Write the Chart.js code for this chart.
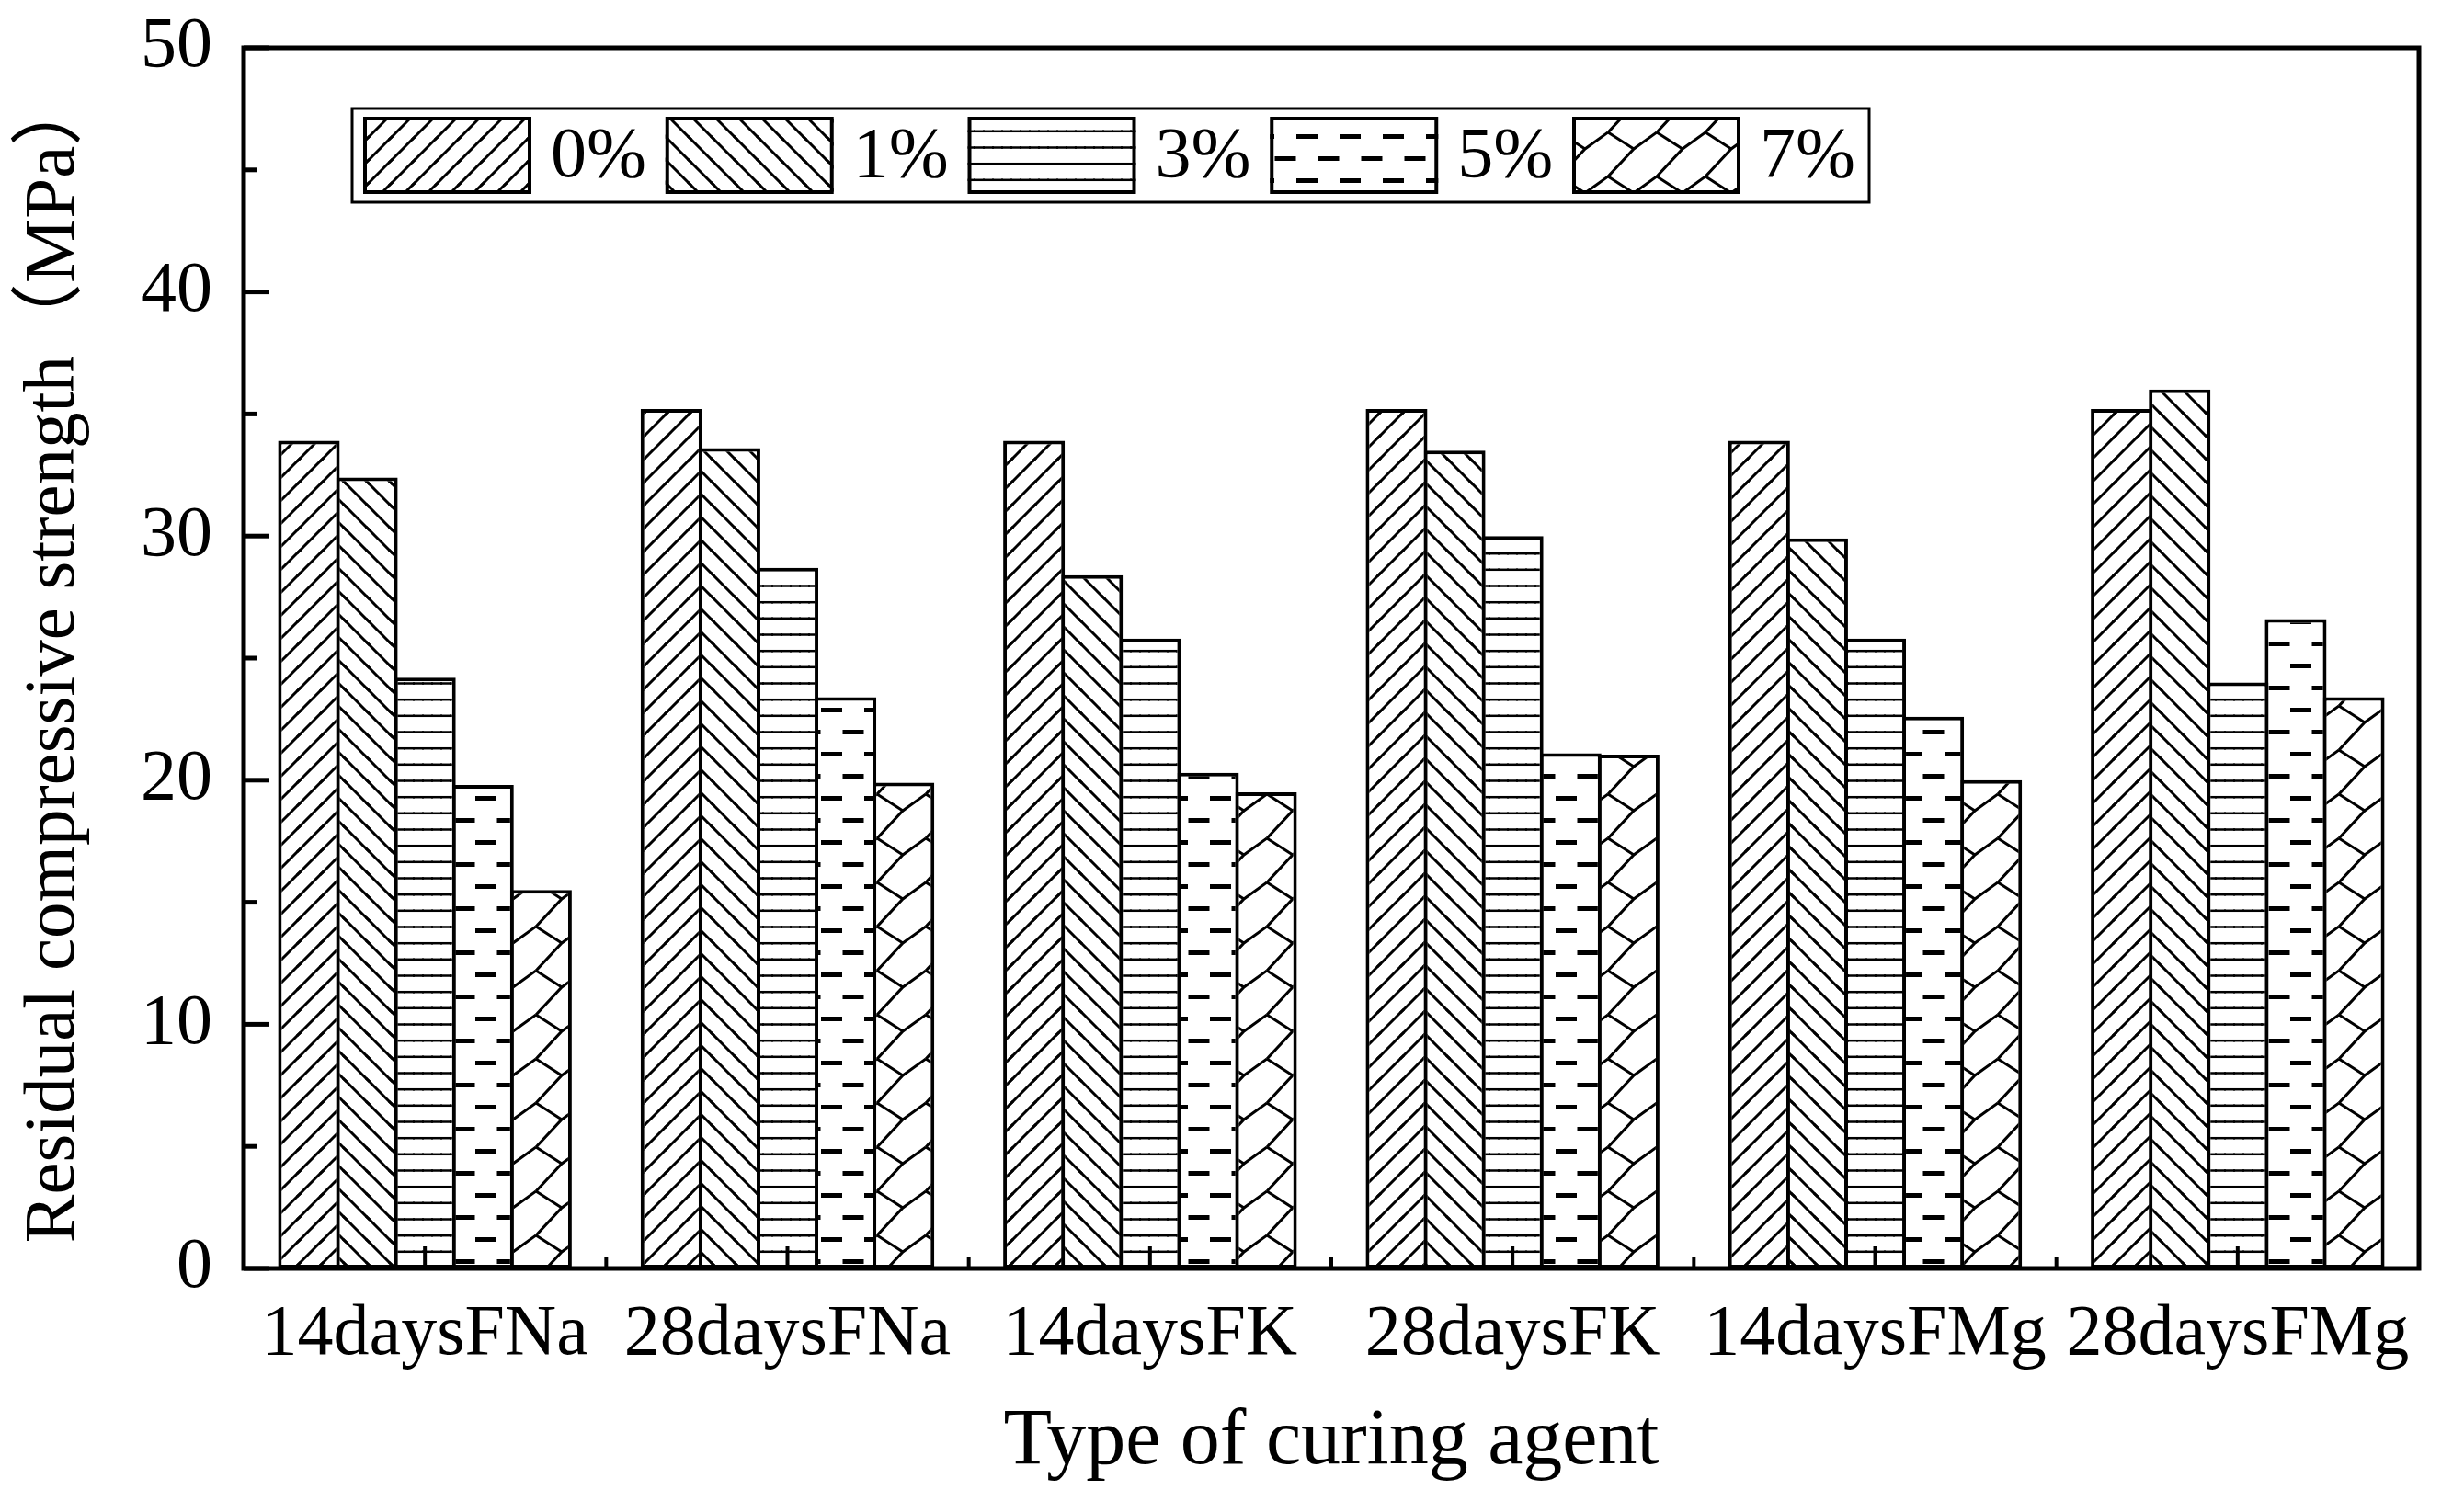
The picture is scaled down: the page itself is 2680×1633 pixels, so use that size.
<!DOCTYPE html>
<html lang="en">
<head>
<meta charset="UTF-8">
<title>Residual compressive strength</title>
<script src="https://cdn.jsdelivr.net/npm/chart.js"></script>
<style>
    html, body {
        margin: 0;
        padding: 0;
        background: #ffffff;
    }
    #wrap {
        width: 2680px;
        height: 1633px;
    }
</style>
</head>
<body>
<div id="wrap"><canvas id="chart" width="2680" height="1633"></canvas></div>
<script>
// data
const categories = ['14daysFNa', '28daysFNa', '14daysFK', '28daysFK', '14daysFMg', '28daysFMg'];
const seriesLabels = ['0%', '1%', '3%', '5%', '7%'];
const s0 = [33.9, 35.2, 33.9, 35.2, 33.9, 35.2];
const s1 = [32.4, 33.6, 28.4, 33.5, 29.9, 36.0];
const s3 = [24.2, 28.7, 25.8, 30.0, 25.8, 24.0];
const s5 = [19.8, 23.4, 20.3, 21.1, 22.6, 26.6];
const s7 = [15.5, 19.9, 19.5, 21.05, 20.0, 23.4];
const yTicks = [0, 10, 20, 30, 40, 50];

const FONT = "'Liberation Serif', 'Noto Sans CJK SC', serif";
Chart.defaults.font.family = FONT;
Chart.defaults.color = '#000';

const canvas = document.getElementById('chart');
const ctx = canvas.getContext('2d');

// hatch tiles, drawn with wrap copies so lines meet across tile edges
function makePattern(w, h, draw) {
    const c = document.createElement('canvas');
    c.width = w;
    c.height = h;
    const g = c.getContext('2d');
    g.fillStyle = '#fff';
    g.fillRect(0, 0, w, h);
    g.strokeStyle = '#000';
    g.fillStyle = '#000';
    for (const dx of [-w, 0, w]) {
        for (const dy of [-h, 0, h]) {
            g.save();
            g.translate(dx, dy);
            draw(g);
            g.restore();
        }
    }
    return ctx.createPattern(c, 'repeat');
}

const patterns = [
    // 0% : forward diagonal
    makePattern(25, 25, g => {
        g.lineWidth = 3;
        g.beginPath(); g.moveTo(-2, 27); g.lineTo(27, -2); g.stroke();
    }),
    // 1% : back diagonal
    makePattern(25, 25, g => {
        g.lineWidth = 3;
        g.beginPath(); g.moveTo(-2, -2); g.lineTo(27, 27); g.stroke();
    }),
    // 3% : horizontal lines
    makePattern(10, 53, g => {
        g.lineWidth = 2.5;
        [1.5, 19.2, 36.8].forEach(yy => {
            g.beginPath(); g.moveTo(-1, yy); g.lineTo(11, yy); g.stroke();
        });
    }),
    // 5% : staggered thick dashes
    makePattern(47, 48, g => {
        g.fillRect(0, 2, 23, 5);
        g.fillRect(23.5, 26, 23, 5);
    }),
    // 7% : zigzag lattice
    makePattern(53, 48, g => {
        g.lineWidth = 3;
        g.beginPath(); g.moveTo(0, 48); g.lineTo(28, 18); g.lineTo(53, 0); g.stroke();
        g.beginPath(); g.moveTo(0, 0); g.lineTo(28, 18); g.stroke();
    })
];

const seriesData = [s0, s1, s3, s5, s7];

const datasets = seriesLabels.map((lab, i) => ({
    label: lab,
    data: seriesData[i],
    backgroundColor: patterns[i],
    borderColor: '#000',
    borderWidth: 4,
    borderSkipped: false,
    categoryPercentage: 0.8,
    barPercentage: 1.0634
}));

// plot frame + inward ticks
const frameTicks = {
    id: 'frameTicks',
    afterDatasetsDraw(chart) {
        const {ctx, chartArea: a, scales: {x, y}} = chart;
        ctx.save();
        ctx.strokeStyle = '#000';
        ctx.lineWidth = 5;
        ctx.strokeRect(a.left, a.top, a.right - a.left, a.bottom - a.top);
        // y major + minor
        yTicks.forEach((v, i) => {
            let py = y.getPixelForValue(v);
            ctx.beginPath(); ctx.moveTo(a.left, py); ctx.lineTo(a.left + 28, py); ctx.stroke();
            if (i < yTicks.length - 1) {
                py = y.getPixelForValue((v + yTicks[i + 1]) / 2);
                ctx.beginPath(); ctx.moveTo(a.left, py); ctx.lineTo(a.left + 14, py); ctx.stroke();
            }
        });
        // x ticks at category centres and boundaries
        ctx.lineWidth = 4;
        categories.forEach((c, i) => {
            const px = x.getPixelForValue(i);
            ctx.beginPath(); ctx.moveTo(px, a.bottom); ctx.lineTo(px, a.bottom - 24); ctx.stroke();
            if (i > 0) {
                const bx = (px + x.getPixelForValue(i - 1)) / 2;
                ctx.beginPath(); ctx.moveTo(bx, a.bottom); ctx.lineTo(bx, a.bottom - 12); ctx.stroke();
            }
        });
        ctx.restore();
    }
};

// boxed legend inside the plot, one row
const boxLegend = {
    id: 'boxLegend',
    afterDraw(chart) {
        const {ctx, chartArea: a} = chart;
        const x0 = a.left + 118, y0 = a.top + 66, w = 1650, h = 102;
        ctx.save();
        ctx.fillStyle = '#fff';
        ctx.fillRect(x0, y0, w, h);
        ctx.lineWidth = 3;
        ctx.strokeStyle = '#000';
        ctx.strokeRect(x0, y0, w, h);
        chart.data.datasets.forEach((ds, i) => {
            const sx = x0 + 12 + i * 328.75, sy = y0 + 9;
            ctx.fillStyle = ds.backgroundColor;
            ctx.fillRect(sx, sy, 183, 84);
            ctx.lineWidth = 4;
            ctx.strokeRect(sx + 2, sy + 2, 179, 80);
            ctx.fillStyle = '#000';
            ctx.font = '78px ' + FONT;
            ctx.textBaseline = 'middle';
            ctx.textAlign = 'left';
            ctx.fillText(ds.label, sx + 183 + 21, sy + 45);
        });
        ctx.restore();
    }
};

new Chart(ctx, {
    type: 'bar',
    data: {
        labels: categories,
        datasets: datasets
    },
    options: {
        responsive: false,
        animation: false,
        devicePixelRatio: 1,
        layout: { padding: { top: 52, right: 49, left: 0, bottom: 0 } },
        plugins: {
            legend: { display: false },
            tooltip: { enabled: false }
        },
        scales: {
            x: {
                grid: { display: false, drawTicks: false },
                border: { display: false },
                ticks: {
                    font: { size: 78 },
                    color: '#000',
                    padding: 26,
                    autoSkip: false,
                    maxRotation: 0,
                    minRotation: 0
                },
                title: {
                    display: true,
                    text: 'Type of curing agent',
                    font: { size: 86 },
                    color: '#000',
                    padding: { top: 0, bottom: 12 }
                },
                afterFit(s) { s.height = 253; }
            },
            y: {
                min: yTicks[0],
                max: yTicks[yTicks.length - 1],
                grid: { display: false, drawTicks: false },
                border: { display: false },
                ticks: {
                    stepSize: 10,
                    font: { size: 78, lineHeight: 0.4 },
                    color: '#000',
                    padding: 34
                },
                title: {
                    display: true,
                    text: 'Residual compressive strength（MPa）',
                    font: { size: 79 },
                    color: '#000',
                    padding: { top: 12, bottom: 0 }
                },
                afterFit(s) { s.width = 265; }
            }
        }
    },
    plugins: [frameTicks, boxLegend]
});
</script>
</body>
</html>
